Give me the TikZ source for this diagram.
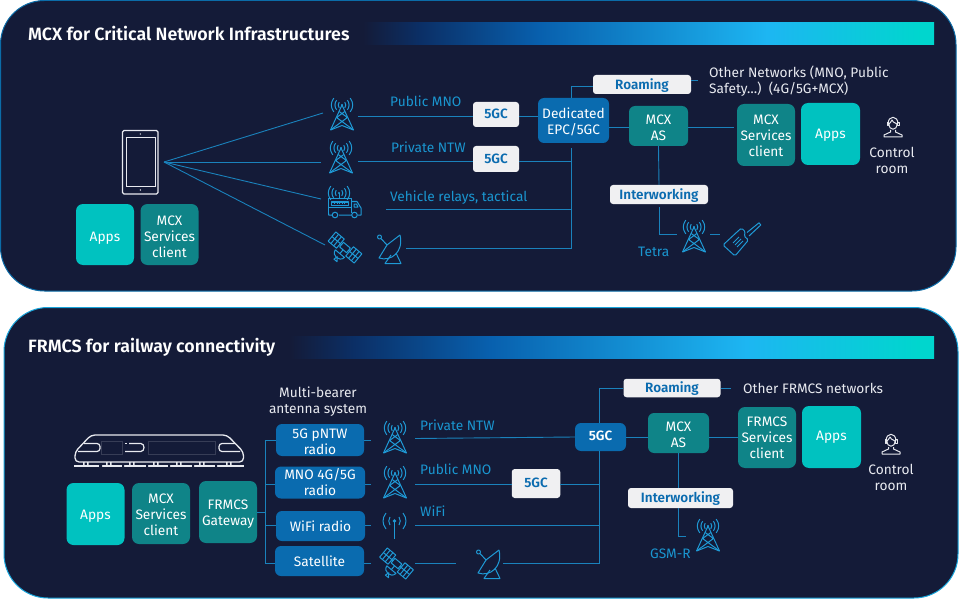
\documentclass[tikz,border=0pt]{standalone}
\usepackage{fontspec}
\setmainfont{Fira Sans}
\newfontfamily\medf{Fira Sans SemiBold}
\newcommand\boxtext[2]{\raisebox{-#1pt}[\height][\depth]{\begin{tabular}{@{}c@{}}#2\end{tabular}}}
\definecolor{panelbg}{HTML}{141B38}
\definecolor{borderA}{HTML}{0B6CA8}
\definecolor{borderB}{HTML}{18A4DA}
\definecolor{wire}{HTML}{1A82BC}
\definecolor{lbl}{HTML}{1A96D0}
\definecolor{icon}{HTML}{1F9AD6}
\definecolor{tealbox}{HTML}{0F8488}
\definecolor{cyanbox}{HTML}{00C2C0}
\definecolor{bluebox}{HTML}{0A6BAF}
\definecolor{whitebox}{HTML}{F0F0F2}
\definecolor{txt}{HTML}{E8EAF0}
\definecolor{gA}{HTML}{141B38}
\definecolor{gB}{HTML}{0B2F66}
\definecolor{gC}{HTML}{0860AE}
\definecolor{gD}{HTML}{1DB6F2}
\definecolor{gE}{HTML}{00D6CE}
\pgfdeclarehorizontalshading{barshade}{100bp}{color(0bp)=(gA); color(25bp)=(gA); color(30bp)=(gB); color(40.5bp)=(gC); color(60.4bp)=(gD); color(73.8bp)=(gE); color(100bp)=(gE)}
\tikzset{
  x=1pt,y=-1pt,
  base/.style={font=\fontsize{13.7}{16}\selectfont,align=center,inner sep=0pt,text=white},
  tealnode/.style={base,fill=tealbox,rounded corners=7pt},
  cyannode/.style={base,fill=cyanbox,rounded corners=7pt},
  bluenode/.style={base,fill=bluebox,rounded corners=6pt},
  whitenode/.style={base,fill=whitebox,rounded corners=3pt,text=bluebox,font=\fontsize{13.5}{16}\medf},
  title/.style={inner sep=0pt,anchor=base west,text=white,font=\fontsize{17.8}{20}\medf},
  wirelabel/.style={inner sep=0pt,anchor=base west,text=lbl,font=\fontsize{13.7}{16}\selectfont},
  plain/.style={inner sep=0pt,text=txt,font=\fontsize{13.7}{16}\selectfont,align=center},
  wired/.style={draw=wire,line width=.9pt},
  iconline/.style={draw=icon,line width=1pt,line join=round},
  pics/waves/.style={code={
    \fill[icon] (0,0) circle (1.1pt);
    \foreach \s in {1,-1}{
      \draw[iconline] (\s*2.8,-2.8) .. controls (\s*4.1,-1) and (\s*4.1,1) .. (\s*2.8,2.8);
      \draw[iconline] (\s*5.4,-4.8) .. controls (\s*7.6,-1.6) and (\s*7.6,1.6) .. (\s*5.4,4.8);
      \draw[iconline] (\s*8.2,-6.9) .. controls (\s*11.6,-2.2) and (\s*11.6,2.2) .. (\s*8.2,6.9);
    }
  }},
  pics/tower/.style={code={
    \pic at (0,0) {waves};
    \draw[iconline] (-11.5,25) -- (0,0) -- (11.5,25);
    \draw[iconline] (-11.5,25) -- (5.4,12.5) -- (-2.8,6.5) (11.5,25) -- (-5.4,12.5) -- (2.8,6.5);
    \draw[iconline] (-11.5,25) -- (0,20.5) -- (11.5,25);
  }},
  pics/sat/.style={code={
    \begin{scope}[rotate=-40]
      \draw[iconline] (-4.5,-3) rectangle (4.5,3);
      \foreach \s in {1,-1}{
        \draw[iconline] (\s*4.5,0) -- (\s*6,0);
        \draw[iconline] (\s*6,-6) rectangle (\s*17,6);
        \draw[iconline] (\s*9.7,-6) -- (\s*9.7,6) (\s*13.4,-6) -- (\s*13.4,6) (\s*6,0) -- (\s*17,0);
      }
      \draw[iconline] (0,3) -- (0,8);
      \draw[iconline] (-6,8) -- (6,8) .. controls (5,15) and (-5,15) .. (-6,8);
      \draw[iconline] (0,12) -- (-1,16) -- (3,16) -- cycle;
    \end{scope}
  }},
  pics/dish/.style={code={
    \draw[iconline] (2.5,3) circle (2pt);
    \draw[iconline] (4,4.5) -- (10,11);
    \draw[iconline] (23,1) -- (10,11) -- (2,24) .. controls (14,28) and (27,18) .. (23,1);
    \draw[iconline] (14,21) -- (8,29.5) -- (24,29.5) -- (19,19);
  }},
  pics/operator/.style={code={
    \draw[iconline,draw=txt] (-5,0) .. controls (-5,-9) and (5,-9) .. (5,0);
    \draw[iconline,draw=txt] (-4,0) .. controls (-4,7) and (4,7) .. (4,0) .. controls (1,-1) and (-1,-3) .. (-1,-4) .. controls (-2,-2) and (-3,-1) .. (-4,0);
    \draw[iconline,draw=txt] (-6,-1.5) rectangle (-4.5,2) (4.5,-1.5) rectangle (6,2);
    \draw[iconline,draw=txt] (-2.5,6) -- (-2.5,8) -- (-9,11) -- (-9,13) -- (9,13) -- (9,11) -- (2.5,8) -- (2.5,6);
  }}
}
\begin{document}
\begin{tikzpicture}
\useasboundingbox (0,0) rectangle (959,599);
\fill[white] (0,0) rectangle (959,599);
% panels
\draw[fill=panelbg,draw=borderA,line width=1pt,rounded corners=44pt] (0.5,0.5) rectangle (956,291);
\draw[fill=panelbg,draw=borderB,line width=1pt,rounded corners=44pt] (4,307.5) rectangle (958,598);
\shade[shading=barshade] (363,23) rectangle (934,45);
\shade[shading=barshade] (290,336) rectangle (934,358);
\node[title] (titleA) at (28,40.5) {MCX for Critical Network Infrastructures};
\node[title] (titleB) at (28,352) {FRMCS for railway connectivity};

% ---------- upper panel boxes
\node[cyannode,minimum width=58pt,minimum height=61pt] (appsL) at (105,234.5) {\boxtext{3.5}{Apps}};
\node[tealnode,minimum width=58pt,minimum height=61pt] (clientL) at (169.5,234.5) {\boxtext{3.5}{MCX\\Services\\client}};
\node[whitenode,minimum width=46pt,minimum height=25pt] (gcA) at (496,114.5) {\boxtext{0.5}{5GC}};
\node[whitenode,minimum width=46pt,minimum height=26pt] (gcB) at (496,159) {\boxtext{1}{5GC}};
\node[bluenode,minimum width=71pt,minimum height=45pt] (epc) at (573.5,120.5) {\boxtext{3}{Dedicated\\EPC/5GC}};
\node[whitenode,minimum width=98pt,minimum height=19pt] (roamA) at (642,84.5) {\boxtext{1.5}{Roaming}};
\node[tealnode,minimum width=59pt,minimum height=40pt,rounded corners=6pt] (asA) at (658.5,126) {\boxtext{3.5}{MCX\\AS}};
\node[tealnode,minimum width=58pt,minimum height=62pt] (clientR) at (766,135) {\boxtext{2.5}{MCX\\Services\\client}};
\node[cyannode,minimum width=59pt,minimum height=62pt] (appsR) at (830.5,134) {\boxtext{1}{Apps}};
\node[whitenode,minimum width=98pt,minimum height=19pt] (interA) at (659,194.5) {\boxtext{1.5}{Interworking}};
\node[plain,align=left,anchor=north west] (other) at (709,66) {Other Networks (MNO, Public\\Safety…)\ \ (4G/5G+MCX)};
\node[plain] (ctrlA) at (892,160) {Control\\room};
\node[wirelabel] (lpub) at (390,107) {Public MNO};
\node[wirelabel] (lpriv) at (391,153) {Private NTW};
\node[wirelabel] (lveh) at (390,201) {Vehicle relays, tactical};
\node[wirelabel] (ltetra) at (638,256) {Tetra};

% tablet
\draw[draw=txt,line width=1.1pt,rounded corners=1.5pt] (122.5,130.5) rectangle (158,194);
\draw[draw=txt,line width=.9pt] (126,137.5) rectangle (155.5,186.5);
\fill[txt] (140.3,134) circle (.7pt) (140.3,190) circle (.8pt);
\coordinate (tab) at (164,162);

% icons upper
\pic at (342,105) {tower};
\pic at (341,148) {tower};
\pic at (694,227) {tower};
\pic at (345,247.5) {sat};
\pic at (377,234) {dish};
\pic at (893,124) {operator};
% truck
\begin{scope}[shift={(328,186)}]
  \pic at (11,7) {waves};
  \draw[iconline] (11,7) -- (11,13);
  \draw[iconline] (0.5,27) -- (0.5,13) -- (23.5,13) -- (23.5,27);
  \draw[iconline] (0.5,21) -- (23.5,21);
  \draw[iconline] (3,16) rectangle (20,19.5);
  \draw[iconline] (23.5,15.5) -- (29,15.5) -- (33,22) -- (33,29) -- (30,29) (23.5,29) -- (11,29) (4,29) -- (0.5,29) -- (0.5,27);
  \draw[iconline] (26,18) -- (28.5,18) -- (30,21) -- (26,21) -- cycle;
  \draw[iconline] (7,29) circle (2.8pt) (26.5,29) circle (2.8pt);
  \foreach \i in {6,8.5,11,13.5,16}{\fill[icon] (\i,17) rectangle +(1.3,1.4);}
\end{scope}
% walkie
\draw[iconline,rounded corners=1.5pt] (723,245) -- (735,256) -- (748.5,240) -- (744,236) -- (745.5,232) -- (741.5,228) -- (737,232) -- cycle;
\draw[iconline] (747,232.5) -- (759,222.8) -- (760.8,225) -- (749,236);
\draw[iconline] (733,243) -- (739,237) (735,245) -- (741,239) (737,247) -- (743,241);

% wires upper
\coordinate (ant1) at (323,113);
\coordinate (ant2) at (321,162);
\coordinate (truckin) at (321,199);
\coordinate (satin) at (325,245);
\coordinate (t1out) at (358,116);
\coordinate (t2out) at (358,161);
\coordinate (truckout) at (386,209.5);
\coordinate (dishout) at (406,248);
\coordinate (busA) at (571,148);
\coordinate (roamEnd) at (698,80);
\coordinate (clientIn) at (734,127);
\coordinate (tetraIn) at (677,234);
\coordinate (tetraOutA) at (710,234);
\coordinate (tetraOutB) at (720,234);
\coordinate (interOut) at (659,207);
\foreach \e in {ant1,ant2,truckin,satin}{\draw[wired] (tab) -- (\e);}
\draw[wired] (t1out) -- (t1out -| gcA.west);
\draw[wired] (t2out) -- (t2out -| gcB.west);
\draw[wired] (gcA.east |- t1out) -- (epc.west |- t1out);
\draw[wired] (gcB.east |- t2out) -- (t2out -| busA);
\draw[wired] (truckout) -- (truckout -| busA);
\draw[wired] (dishout) -| (busA);
\draw[wired] (epc.north -| busA) |- (roamA.west |- 0,86);
\draw[wired] (roamA.east |- roamEnd) -- (roamEnd);
\draw[wired] (epc.east |- 0,127) -- (asA.west |- 0,127);
\draw[wired] (asA.east |- 0,127) -- (clientIn);
\draw[wired] (asA.south) -- (interA.north);
\draw[wired] (interOut) |- (tetraIn);
\draw[wired] (tetraOutA) -- (tetraOutB);

% ---------- lower panel
\node[plain] (multi) at (318,402) {Multi-bearer\\antenna system};
\node[cyannode,minimum width=58pt,minimum height=62pt] (appsT) at (95.5,514) {\boxtext{2}{Apps}};
\node[tealnode,minimum width=58pt,minimum height=61pt] (clientT) at (161,513.5) {\boxtext{2.5}{MCX\\Services\\client}};
\node[tealnode,minimum width=58pt,minimum height=62pt] (gateway) at (228,512) {\boxtext{2}{FRMCS\\Gateway}};
\node[bluenode,minimum width=88pt,minimum height=30pt] (rA) at (320,440) {\boxtext{3}{5G pNTW\\radio}};
\node[bluenode,minimum width=90pt,minimum height=31pt] (rB) at (320,482.5) {\boxtext{1.5}{MNO 4G/5G\\radio}};
\node[bluenode,minimum width=89pt,minimum height=30pt] (rC) at (320.5,526) {\boxtext{2}{WiFi radio}};
\node[bluenode,minimum width=89pt,minimum height=30pt] (rD) at (319.5,561) {\boxtext{2}{Satellite}};
\node[whitenode,minimum width=48.5pt,minimum height=29pt] (gcC) at (536,483.5) {\boxtext{0.5}{5GC}};
\node[bluenode,minimum width=51pt,minimum height=28pt,font=\fontsize{13.5}{16}\medf] (gcD) at (600.5,437) {\boxtext{0.5}{5GC}};
\node[tealnode,minimum width=61pt,minimum height=40pt,rounded corners=6pt] (asB) at (678.5,433) {\boxtext{3.5}{MCX\\AS}};
\node[tealnode,minimum width=58pt,minimum height=61pt] (clientS) at (767,437.5) {\boxtext{2}{FRMCS\\Services\\client}};
\node[cyannode,minimum width=59pt,minimum height=62pt] (appsS) at (831.5,437) {\boxtext{0}{Apps}};
\node[whitenode,minimum width=97pt,minimum height=18.5pt] (roamB) at (672,388) {\boxtext{1}{Roaming}};
\node[whitenode,minimum width=105pt,minimum height=20pt] (interB) at (680.5,498) {\boxtext{1}{Interworking}};
\node[plain,anchor=base west] (otherB) at (743,393) {Other FRMCS networks};
\node[plain] (ctrlB) at (891,477.5) {Control\\room};
\node[wirelabel] (lprivB) at (420,430) {Private NTW};
\node[wirelabel] (lpubB) at (420,474) {Public MNO};
\node[wirelabel] (lwifi) at (420,516) {WiFi};
\node[wirelabel] (lgsm) at (650,558) {GSM-R};

% train
\begin{scope}[line width=1.3pt,draw=txt]
  \draw[txt,rounded corners=4pt] (75,462) -- (75,452) -- (91,435) -- (227,435) -- (243.5,452) -- (243.5,462) -- cycle;
  \draw[txt,rounded corners=3pt,line width=1.2pt] (84,443.5) -- (100,443.5) -- (100,451.5) -- (78,451.5);
  \draw[txt,line width=1.2pt] (129,443.5) -- (141,443.5) .. controls (145,444) and (145,451) .. (141,451.5) -- (125,451.5);
  \fill[txt] (125,443) rectangle +(2,1.2);
  \draw[txt,rounded corners=3pt,line width=1.2pt] (235,443.5) -- (219,443.5) -- (219,451.5) -- (240,451.5);
  \draw[draw=white!15!panelbg,line width=.7pt] (101,441.5) rectangle (122.5,454.5) (148,441.5) rectangle (215.5,454.5);
  \draw[txt,line width=1.4pt] (74,466) -- (244,466);
  \foreach \i in {86,109,132,156,179,202,229}{\fill[txt] (\i-3,462) rectangle +(1.6,4) (\i+1,462) rectangle +(1.6,4);}
  \fill[panelbg] (99,465) rectangle +(3,2) (122,465) rectangle +(2,2) (146,465) rectangle +(2,2) (168,465) rectangle +(2,2) (192,465) rectangle +(2,2) (215,465) rectangle +(2,2);
\end{scope}

% icons lower
\pic at (395,428) {tower};
\pic at (395,473) {tower};
\pic at (708,526) {tower};
\pic at (396.5,563.5) {sat};
\pic at (476,549) {dish};
\pic at (891,441) {operator};
\begin{scope}[shift={(394.5,521)}]
  \foreach \s in {1,-1}{
    \draw[iconline] (\s*4.5,-4) .. controls (\s*6.2,-1.5) and (\s*6.2,1.5) .. (\s*4.5,4);
    \draw[iconline] (\s*8.5,-8) .. controls (\s*12.5,-2.5) and (\s*12.5,2.5) .. (\s*8.5,8);
  }
  \fill[icon] (0,0) circle (1.8pt);
  \draw[iconline] (0,0) -- (0,18);
\end{scope}

% wires lower
\coordinate (busTop) at (265.5,440);
\coordinate (busBot) at (265.5,563.5);
\coordinate (busGate) at (265.5,512);
\coordinate (sA) at (371,440);
\coordinate (sB) at (371,484);
\coordinate (sC) at (371,525.5);
\coordinate (sD) at (371,563.5);
\coordinate (oA) at (415,438.5);
\coordinate (oB) at (415,484);
\coordinate (oC) at (415,525.5);
\coordinate (oD) at (415,563.5);
\coordinate (oDe) at (456,563.5);
\coordinate (dishB) at (503,563.5);
\coordinate (busB) at (599.5,484);
\coordinate (busC) at (599.5,525.5);
\coordinate (busD) at (599.5,563.5);
\coordinate (roamEndB) at (731,388);
\coordinate (gsmIn) at (686,536);
\draw[wired] (busTop) -- (busBot);
\draw[wired] (gateway.east) -- (busGate);
\draw[wired] (busTop) -- (rA.west);
\draw[wired] (busTop |- sB) -- (rB.west |- sB);
\draw[wired] (busTop |- sC) -- (rC.west |- sC);
\draw[wired] (busBot) -- (rD.west |- busBot);
\draw[wired] (rA.east) -- (sA);
\draw[wired] (rB.east |- sB) -- (sB);
\draw[wired] (rC.east |- sC) -- (sC);
\draw[wired] (rD.east |- sD) -- (sD);
\draw[wired] (oA) -- (gcD.west);
\draw[wired] (oB) -- (oB -| gcC.west);
\draw[wired] (oB -| gcC.east) -- (busB);
\draw[wired] (oC) -- (busC);
\draw[wired] (oD) -- (oDe);
\draw[wired] (dishB) -- (busD) -- (gcD.south -| busD);
\draw[wired] (gcD.north -| busD) |- (roamB.west);
\draw[wired] (roamB.east) -- (roamEndB);
\draw[wired] (gcD.east) -- (gcD.east -| asB.west);
\draw[wired] (gcD.east -| asB.east) -- (gcD.east -| clientS.west);
\draw[wired] (asB.south) -- (asB.south |- interB.north);
\draw[wired] (asB.south |- interB.south) |- (gsmIn);
\end{tikzpicture}
\end{document}
